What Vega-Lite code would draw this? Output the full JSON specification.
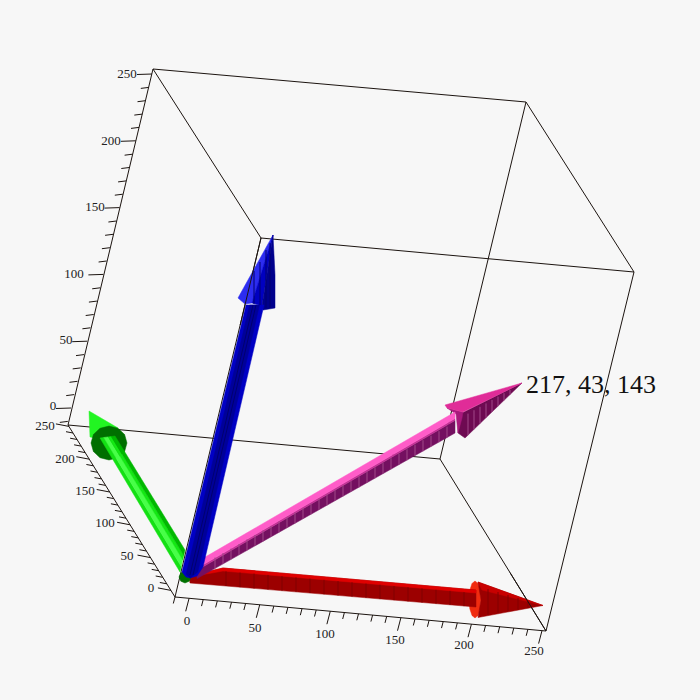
{"$schema":"https://vega.github.io/schema/vega-lite/v6.json","width":700,"height":700,"padding":0,"autosize":"none","background":"#f7f7f7","view":{"stroke":null},
"datasets":{
"edges":[{"a":175,"b":597,"c":546,"d":631},{"a":175,"b":597,"c":68,"d":425},{"a":68,"b":425,"c":440,"d":459},{"a":440,"b":459,"c":546,"d":631},{"a":68,"b":425,"c":153,"d":69},{"a":440,"b":459,"c":526,"d":102},{"a":546,"b":631,"c":634,"d":272},{"a":175,"b":597,"c":261,"d":238},{"a":153,"b":69,"c":526,"d":102},{"a":526,"b":102,"c":634,"d":272},{"a":634,"b":272,"c":261,"d":238},{"a":261,"b":238,"c":153,"d":69}],
"front":[{"a":510,"b":572.6,"c":546,"d":631},{"a":261,"b":238,"c":240.2,"d":325}],
"ticks":[
{"a":175,"b":597,"c":173.3,"d":603.5},{"a":189.1,"b":598.3,"c":185.7,"d":611.3},{"a":203.2,"b":599.6,"c":201.5,"d":606.1},{"a":217.3,"b":600.9,"c":215.6,"d":607.4},{"a":231.5,"b":602.2,"c":229.8,"d":608.7},{"a":245.6,"b":603.5,"c":243.9,"d":610},{"a":259.7,"b":604.8,"c":256.3,"d":617.8},{"a":273.8,"b":606.1,"c":272.1,"d":612.6},{"a":287.9,"b":607.4,"c":286.2,"d":613.9},{"a":302,"b":608.7,"c":300.3,"d":615.2},{"a":316.2,"b":610,"c":314.5,"d":616.5},{"a":330.3,"b":611.2,"c":326.9,"d":624.2},{"a":344.4,"b":612.5,"c":342.7,"d":619},{"a":358.5,"b":613.8,"c":356.8,"d":620.3},{"a":372.6,"b":615.1,"c":370.9,"d":621.6},{"a":386.7,"b":616.4,"c":385,"d":622.9},{"a":400.9,"b":617.7,"c":397.5,"d":630.7},{"a":415,"b":619,"c":413.3,"d":625.5},{"a":429.1,"b":620.3,"c":427.4,"d":626.8},{"a":443.2,"b":621.6,"c":441.5,"d":628.1},{"a":457.3,"b":622.9,"c":455.6,"d":629.4},{"a":471.4,"b":624.2,"c":468,"d":637.2},{"a":485.6,"b":625.4,"c":483.9,"d":631.9},{"a":499.7,"b":626.7,"c":498,"d":633.2},{"a":513.8,"b":628,"c":512.1,"d":634.5},{"a":527.9,"b":629.3,"c":526.2,"d":635.8},{"a":542,"b":630.6,"c":538.6,"d":643.6},
{"a":170.9,"b":590.4,"c":157.9,"d":587.9},{"a":166.8,"b":583.8,"c":159.8,"d":582.5},{"a":162.7,"b":577.3,"c":155.7,"d":576},{"a":158.7,"b":570.7,"c":151.7,"d":569.4},{"a":154.6,"b":564.2,"c":147.6,"d":562.9},{"a":150.5,"b":557.6,"c":137.5,"d":555.1},{"a":146.4,"b":551,"c":139.4,"d":549.7},{"a":142.3,"b":544.5,"c":135.3,"d":543.2},{"a":138.3,"b":537.9,"c":131.3,"d":536.6},{"a":134.2,"b":531.4,"c":127.2,"d":530.1},{"a":130.1,"b":524.8,"c":117.1,"d":522.3},{"a":126,"b":518.2,"c":119,"d":516.9},{"a":121.9,"b":511.7,"c":114.9,"d":510.4},{"a":117.9,"b":505.1,"c":110.9,"d":503.8},{"a":113.8,"b":498.6,"c":106.8,"d":497.3},{"a":109.7,"b":492,"c":96.7,"d":489.5},{"a":105.6,"b":485.4,"c":98.6,"d":484.1},{"a":101.5,"b":478.9,"c":94.5,"d":477.6},{"a":97.5,"b":472.3,"c":90.5,"d":471},{"a":93.4,"b":465.8,"c":86.4,"d":464.5},{"a":89.3,"b":459.2,"c":76.3,"d":456.7},{"a":85.2,"b":452.6,"c":78.2,"d":451.3},{"a":81.1,"b":446.1,"c":74.1,"d":444.8},{"a":77.1,"b":439.5,"c":70.1,"d":438.2},{"a":73,"b":433,"c":66,"d":431.7},{"a":68.9,"b":426.4,"c":55.9,"d":423.9},
{"a":67.8,"b":421.4,"c":59.8,"d":422.4},{"a":71,"b":408,"c":56,"d":408.5},{"a":74.2,"b":394.6,"c":66.2,"d":395.6},{"a":77.5,"b":381.3,"c":69.5,"d":382.3},{"a":80.7,"b":367.9,"c":72.7,"d":368.9},{"a":84,"b":354.6,"c":76,"d":355.6},{"a":87.2,"b":341.2,"c":72.2,"d":341.7},{"a":90.4,"b":327.8,"c":82.4,"d":328.8},{"a":93.7,"b":314.5,"c":85.7,"d":315.5},{"a":96.9,"b":301.1,"c":88.9,"d":302.1},{"a":100.2,"b":287.8,"c":92.2,"d":288.8},{"a":103.4,"b":274.4,"c":88.4,"d":274.9},{"a":106.6,"b":261,"c":98.6,"d":262},{"a":109.9,"b":247.7,"c":101.9,"d":248.7},{"a":113.1,"b":234.3,"c":105.1,"d":235.3},{"a":116.4,"b":221,"c":108.4,"d":222},{"a":119.6,"b":207.6,"c":104.6,"d":208.1},{"a":122.8,"b":194.2,"c":114.8,"d":195.2},{"a":126.1,"b":180.9,"c":118.1,"d":181.9},{"a":129.3,"b":167.5,"c":121.3,"d":168.5},{"a":132.6,"b":154.2,"c":124.6,"d":155.2},{"a":135.8,"b":140.8,"c":120.8,"d":141.3},{"a":139,"b":127.4,"c":131,"d":128.4},{"a":142.3,"b":114.1,"c":134.3,"d":115.1},{"a":145.5,"b":100.7,"c":137.5,"d":101.7},{"a":148.8,"b":87.4,"c":140.8,"d":88.4},{"a":152,"b":74,"c":137,"d":74.5}],
"polys":[
{"p":"r ring","x":481,"y":599.5},{"p":"r ring","x":480.2,"y":608.75},{"p":"r ring","x":478,"y":615.5},{"p":"r ring","x":475,"y":618},{"p":"r ring","x":472,"y":615.5},{"p":"r ring","x":469.8,"y":608.75},{"p":"r ring","x":469,"y":599.5},{"p":"r ring","x":469.8,"y":590.25},{"p":"r ring","x":472,"y":583.5},{"p":"r ring","x":475,"y":581},{"p":"r ring","x":478,"y":583.5},{"p":"r ring","x":480.2,"y":590.25},
{"p":"r cone","x":478,"y":582},{"p":"r cone","x":543,"y":605.5},{"p":"r cone","x":478,"y":617.5},{"p":"r cone","x":481,"y":600},
{"p":"r cone top","x":478,"y":582},{"p":"r cone top","x":543,"y":605.5},{"p":"r cone top","x":482,"y":590},
{"p":"r shaft","x":189,"y":577},{"p":"r shaft","x":223,"y":568},{"p":"r shaft","x":476,"y":590},{"p":"r shaft","x":476,"y":607},{"p":"r shaft","x":190,"y":583},
{"p":"r band","x":223,"y":568},{"p":"r band","x":476,"y":590},{"p":"r band","x":476,"y":593},{"p":"r band","x":223,"y":571},{"p":"r band","x":195,"y":576},{"p":"r band","x":195,"y":574},
{"p":"g cone","x":89,"y":411},{"p":"g cone","x":118,"y":428},{"p":"g cone","x":105,"y":440},{"p":"g cone","x":90,"y":437},
{"p":"g ring","x":127,"y":443},{"p":"g ring","x":124.6,"y":451.5},{"p":"g ring","x":118,"y":457.7},{"p":"g ring","x":109,"y":460},{"p":"g ring","x":100,"y":457.7},{"p":"g ring","x":93.4,"y":451.5},{"p":"g ring","x":91,"y":443},{"p":"g ring","x":93.4,"y":434.5},{"p":"g ring","x":100,"y":428.3},{"p":"g ring","x":109,"y":426},{"p":"g ring","x":118,"y":428.3},{"p":"g ring","x":124.6,"y":434.5},
{"p":"g base","x":191,"y":577},{"p":"g base","x":189.2,"y":581.2},{"p":"g base","x":185,"y":583},{"p":"g base","x":180.8,"y":581.2},{"p":"g base","x":179,"y":577},{"p":"g base","x":180.8,"y":572.8},{"p":"g base","x":185,"y":571},{"p":"g base","x":189.2,"y":572.8},
{"p":"g 1","x":100,"y":438},{"p":"g 1","x":103.75,"y":437.5},{"p":"g 1","x":181.25,"y":566.5},{"p":"g 1","x":180,"y":572},
{"p":"g 2","x":103.75,"y":437.5},{"p":"g 2","x":108.25,"y":436.9},{"p":"g 2","x":182.75,"y":559.9},{"p":"g 2","x":181.25,"y":566.5},
{"p":"g 3","x":108.25,"y":436.9},{"p":"g 3","x":111.25,"y":436.5},{"p":"g 3","x":183.75,"y":555.5},{"p":"g 3","x":182.75,"y":559.9},
{"p":"g 4","x":111.25,"y":436.5},{"p":"g 4","x":115,"y":436},{"p":"g 4","x":185,"y":550},{"p":"g 4","x":183.75,"y":555.5},
{"p":"p cone dark","x":458,"y":415},{"p":"p cone dark","x":522,"y":383},{"p":"p cone dark","x":465,"y":438},{"p":"p cone dark","x":458,"y":433},
{"p":"p cone mid","x":447,"y":408},{"p":"p cone mid","x":463,"y":412},{"p":"p cone mid","x":462,"y":418},{"p":"p cone mid","x":458,"y":433},{"p":"p cone mid","x":456,"y":414},
{"p":"p cone light","x":445,"y":405},{"p":"p cone light","x":522,"y":383},{"p":"p cone light","x":463,"y":412},{"p":"p cone light","x":447,"y":408},
{"p":"p dark","x":197,"y":570.3},{"p":"p dark","x":455,"y":420.5},{"p":"p dark","x":455,"y":433},{"p":"p dark","x":197,"y":578.6},
{"p":"p mid","x":197,"y":568.3},{"p":"p mid","x":455,"y":418.5},{"p":"p mid","x":455,"y":420.5},{"p":"p mid","x":197,"y":570.3},
{"p":"p light","x":197,"y":561.8},{"p":"p light","x":455,"y":412},{"p":"p light","x":455,"y":418.5},{"p":"p light","x":197,"y":568.3},
{"p":"b cone light","x":273,"y":235},{"p":"b cone light","x":252,"y":303},{"p":"b cone light","x":245,"y":304},{"p":"b cone light","x":238,"y":298},
{"p":"b cone mid","x":273,"y":235},{"p":"b cone mid","x":262,"y":306},{"p":"b cone mid","x":252,"y":303},
{"p":"b cone dark","x":273,"y":235},{"p":"b cone dark","x":275,"y":275},{"p":"b cone dark","x":275,"y":308},{"p":"b cone dark","x":263,"y":310},{"p":"b cone dark","x":262,"y":306},
{"p":"b mid","x":246,"y":305},{"p":"b mid","x":264,"y":305},{"p":"b mid","x":203,"y":567},{"p":"b mid","x":197,"y":576},{"p":"b mid","x":190,"y":578},{"p":"b mid","x":186,"y":577},{"p":"b mid","x":182,"y":572},
{"p":"b dark","x":249.6,"y":305},{"p":"b dark","x":259.5,"y":305},{"p":"b dark","x":197.8,"y":572},{"p":"b dark","x":190,"y":578},{"p":"b dark","x":186.2,"y":574}],
"stripes":[
{"k":"red","a":226,"b":571.3,"c":226,"d":586},{"k":"red","a":240,"b":572.5,"c":240,"d":587.2},{"k":"red","a":254,"b":573.7,"c":254,"d":588.4},{"k":"red","a":268,"b":574.9,"c":268,"d":589.6},{"k":"red","a":282,"b":576.2,"c":282,"d":590.8},{"k":"red","a":296,"b":577.4,"c":296,"d":591.9},{"k":"red","a":310,"b":578.6,"c":310,"d":593.1},{"k":"red","a":324,"b":579.8,"c":324,"d":594.3},{"k":"red","a":338,"b":581.1,"c":338,"d":595.5},{"k":"red","a":352,"b":582.3,"c":352,"d":596.7},{"k":"red","a":366,"b":583.5,"c":366,"d":597.9},{"k":"red","a":380,"b":584.8,"c":380,"d":599.1},{"k":"red","a":394,"b":586,"c":394,"d":600.2},{"k":"red","a":408,"b":587.2,"c":408,"d":601.4},{"k":"red","a":422,"b":588.4,"c":422,"d":602.6},{"k":"red","a":436,"b":589.7,"c":436,"d":603.8},{"k":"red","a":450,"b":590.9,"c":450,"d":605},{"k":"red","a":464,"b":592.1,"c":464,"d":606.2},
{"k":"red","a":488,"b":589,"c":488,"d":615.2},{"k":"red","a":498,"b":592,"c":498,"d":613.3},{"k":"red","a":508,"b":595,"c":508,"d":611.5},{"k":"red","a":518,"b":598,"c":518,"d":609.6},{"k":"red","a":528,"b":601,"c":528,"d":607.8},
{"k":"pink","a":215,"b":557.5,"c":215,"d":568.5},{"k":"pink","a":223,"b":553,"c":223,"d":564},{"k":"pink","a":231,"b":548.5,"c":231,"d":559.5},{"k":"pink","a":239,"b":544,"c":239,"d":555},{"k":"pink","a":247,"b":539.4,"c":247,"d":550.4},{"k":"pink","a":255,"b":534.9,"c":255,"d":545.9},{"k":"pink","a":263,"b":530.4,"c":263,"d":541.4},{"k":"pink","a":271,"b":525.9,"c":271,"d":536.9},{"k":"pink","a":279,"b":521.4,"c":279,"d":532.4},{"k":"pink","a":287,"b":516.9,"c":287,"d":527.9},{"k":"pink","a":295,"b":512.4,"c":295,"d":523.4},{"k":"pink","a":303,"b":507.9,"c":303,"d":518.9},{"k":"pink","a":311,"b":503.3,"c":311,"d":514.3},{"k":"pink","a":319,"b":498.8,"c":319,"d":509.8},{"k":"pink","a":327,"b":494.3,"c":327,"d":505.3},{"k":"pink","a":335,"b":489.8,"c":335,"d":500.8},{"k":"pink","a":343,"b":485.3,"c":343,"d":496.3},{"k":"pink","a":351,"b":480.8,"c":351,"d":491.8},{"k":"pink","a":359,"b":476.3,"c":359,"d":487.3},{"k":"pink","a":367,"b":471.8,"c":367,"d":482.8},{"k":"pink","a":375,"b":467.2,"c":375,"d":478.2},{"k":"pink","a":383,"b":462.7,"c":383,"d":473.7},{"k":"pink","a":391,"b":458.2,"c":391,"d":469.2},{"k":"pink","a":399,"b":453.7,"c":399,"d":464.7},{"k":"pink","a":407,"b":449.2,"c":407,"d":460.2},{"k":"pink","a":415,"b":444.7,"c":415,"d":455.7},{"k":"pink","a":423,"b":440.2,"c":423,"d":451.2},{"k":"pink","a":431,"b":435.7,"c":431,"d":446.7},{"k":"pink","a":439,"b":431.2,"c":439,"d":442.2},{"k":"pink","a":447,"b":426.6,"c":447,"d":437.6},
{"k":"pink","a":468,"b":413.6,"c":468,"d":435.1},{"k":"pink","a":474,"b":410.2,"c":474,"d":429.3},{"k":"pink","a":480,"b":406.8,"c":480,"d":423.5},{"k":"pink","a":486,"b":403.4,"c":486,"d":417.7},{"k":"pink","a":492,"b":400,"c":492,"d":412},{"k":"pink","a":498,"b":396.6,"c":498,"d":406.2},{"k":"pink","a":504,"b":393.2,"c":504,"d":400.4},{"k":"pink","a":510,"b":389.8,"c":510,"d":394.6},
{"k":"blue","a":254,"b":271,"c":254,"d":304},{"k":"blue","a":260,"b":262,"c":260,"d":305},{"k":"blue","a":266,"b":250,"c":266,"d":308},{"k":"blue","a":270,"b":243,"c":270,"d":308},{"k":"blue","a":253,"b":305,"c":190,"d":575},{"k":"blue","a":256,"b":305,"c":193,"d":575}],
"ticklabels":[{"x":187,"y":621,"t":"0"},{"x":255,"y":627.5,"t":"50"},{"x":325,"y":634,"t":"100"},{"x":395,"y":640,"t":"150"},{"x":464,"y":645,"t":"200"},{"x":534,"y":651,"t":"250"},
{"x":151,"y":588,"t":"0"},{"x":127,"y":556,"t":"50"},{"x":105,"y":523,"t":"100"},{"x":85,"y":491,"t":"150"},{"x":65,"y":459,"t":"200"},{"x":45,"y":426,"t":"250"},
{"x":53,"y":406,"t":"0"},{"x":66,"y":340,"t":"50"},{"x":74,"y":274,"t":"100"},{"x":95,"y":207,"t":"150"},{"x":111,"y":141,"t":"200"},{"x":127,"y":74,"t":"250"}],
"note":[{"x":526,"y":385,"t":"217, 43, 143"}]
},
"layer":[
{"data":{"name":"edges"},"mark":{"type":"rule","color":"#1c1410","strokeWidth":1},"encoding":{"x":{"field":"a","type":"quantitative","scale":{"domain":[0,700],"range":[0,700],"nice":false,"zero":false},"axis":null},"y":{"field":"b","type":"quantitative","scale":{"domain":[0,700],"range":[0,700],"nice":false,"zero":false},"axis":null},"x2":{"field":"c"},"y2":{"field":"d"}}},
{"data":{"name":"ticks"},"mark":{"type":"rule","color":"#1c1410","strokeWidth":1},"encoding":{"x":{"field":"a","type":"quantitative","axis":null},"y":{"field":"b","type":"quantitative","axis":null},"x2":{"field":"c"},"y2":{"field":"d"}}},
{"data":{"name":"polys"},"mark":{"type":"line","interpolate":"linear-closed","strokeWidth":0.5},"encoding":{"x":{"field":"x","type":"quantitative","axis":null},"y":{"field":"y","type":"quantitative","axis":null},"order":{"value":null},
"detail":{"field":"p"},
"fill":{"field":"p","type":"nominal","legend":null,"scale":{"domain":["r ring","r cone","r cone top","r shaft","r band","g cone","g ring","g base","g 1","g 2","g 3","g 4","p cone dark","p cone mid","p cone light","p dark","p mid","p light","b cone light","b cone mid","b cone dark","b mid","b dark"],"range":["#f02c10","#9c0000","#c80000","#9c0000","#e00000","#22f522","#006f00","#007000","#14e014","#48ff48","#14e814","#00b800","#6e0a52","#a8187c","#e02c98","#741060","#c43096","#ff5cc8","#2c2cf0","#0000c0","#00008c","#0000c4","#00009a"]}},
"stroke":{"field":"p","type":"nominal","legend":null,"scale":{"domain":["r ring","r cone","r cone top","r shaft","r band","g cone","g ring","g base","g 1","g 2","g 3","g 4","p cone dark","p cone mid","p cone light","p dark","p mid","p light","b cone light","b cone mid","b cone dark","b mid","b dark"],"range":["#f02c10","#9c0000","#c80000","#9c0000","#e00000","#22f522","#006f00","#007000","#14e014","#48ff48","#14e814","#00b800","#6e0a52","#a8187c","#e02c98","#741060","#c43096","#ff5cc8","#2c2cf0","#0000c0","#00008c","#0000c4","#00009a"]}}}},
{"data":{"name":"stripes"},"mark":{"type":"rule","strokeWidth":1},"encoding":{"x":{"field":"a","type":"quantitative","axis":null},"y":{"field":"b","type":"quantitative","axis":null},"x2":{"field":"c"},"y2":{"field":"d"},"color":{"field":"k","type":"nominal","legend":null,"scale":{"domain":["red","pink","blue"],"range":["#800000","#a04888","#000070"]}}}},
{"data":{"name":"front"},"mark":{"type":"rule","color":"#1c1410","strokeWidth":1},"encoding":{"x":{"field":"a","type":"quantitative","axis":null},"y":{"field":"b","type":"quantitative","axis":null},"x2":{"field":"c"},"y2":{"field":"d"}}},
{"data":{"name":"ticklabels"},"mark":{"type":"text","font":"Liberation Serif","fontSize":13,"color":"#222222","align":"center","baseline":"middle"},"encoding":{"x":{"field":"x","type":"quantitative","axis":null},"y":{"field":"y","type":"quantitative","axis":null},"text":{"field":"t"}}},
{"data":{"name":"note"},"mark":{"type":"text","font":"Liberation Serif","fontSize":26,"color":"#111111","align":"left","baseline":"middle"},"encoding":{"x":{"field":"x","type":"quantitative","axis":null},"y":{"field":"y","type":"quantitative","axis":null},"text":{"field":"t"}}}
]}
